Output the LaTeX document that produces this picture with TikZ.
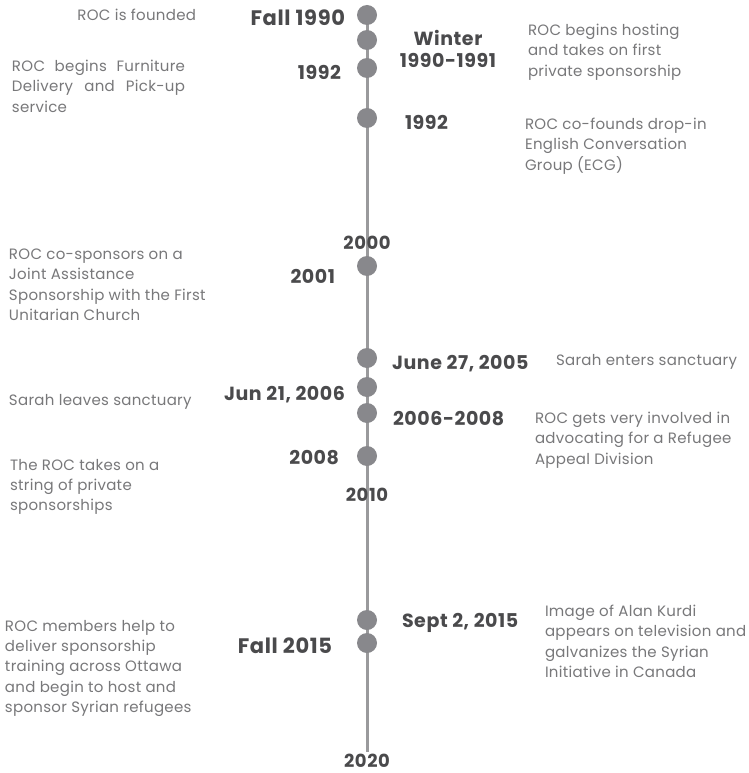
\documentclass[tikz,border=0pt]{standalone}
\usepackage{fontspec}
\setmainfont{Poppins}[LetterSpace=2]
\newfontfamily\datefont[Numbers=OldStyle, LetterSpace=3]{Poppins}
\definecolor{dotgray}{HTML}{88888C}
\definecolor{linegray}{HTML}{9A9A9C}
\definecolor{dategray}{HTML}{4A4A4C}
\definecolor{notegray}{HTML}{78787A}
\newcommand{\jline}[1]{\makebox[173pt][s]{#1}}

\begin{document}
\begin{tikzpicture}[x=1pt,y=-1pt,
			every node/.style = {inner sep=0pt, outer sep=0pt},
			event/.style = {circle, fill=dotgray, minimum size=20pt},
			date/.style = {font=\datefont\bfseries\fontsize{19}{22}\selectfont, text=dategray},
			decade/.style = {font=\datefont\bfseries\fontsize{18}{22}\selectfont, text=dategray},
			bigdate/.style = {font=\datefont\bfseries\fontsize{21}{22}\selectfont, text=dategray},
			note/.style = {font=\fontsize{15}{20.3}\selectfont, text=notegray, align=left}]

			\useasboundingbox (0,0) rectangle (748,773);
			\fill[white] (0,0) rectangle (748,773);

			% the time axis
			\coordinate (top) at (367,8);
			\coordinate (bottom) at (367,752);
			\draw[linegray, line width=3pt] (top) -- (bottom);

			% events on the axis
			\node[event] (e1) at (367,15) {};
			\node[event] (e2) at (367,40) {};
			\node[event] (e3) at (367,68) {};
			\node[event] (e4) at (367,118) {};
			\node[event] (e5) at (367,266) {};
			\node[event] (e6) at (367,358) {};
			\node[event] (e7) at (367,387) {};
			\node[event] (e8) at (367,413) {};
			\node[event] (e9) at (367,456) {};
			\node[event] (e10) at (367,620) {};
			\node[event] (e11) at (367,643) {};

			% decades
			\node[decade] (d2000) at (367,243) {2000};
			\node[decade] (d2010) at (367,495) {2010};
			\node[decade] (d2020) at (367,761) {2020};

			% dates
			\node[bigdate, anchor=east] (t1) at (345,18) {Fall 1990};
			\node[date, align=center] (t2) at (448,49) {Winter\\1990-1991};
			\node[date, anchor=east] (t3) at (341,72) {1992};
			\node[date, anchor=west] (t4) at (405,122) {1992};
			\node[date, anchor=east] (t5) at (335,276) {2001};
			\node[date, anchor=west] (t6) at (392,364) {June 27, 2005};
			\node[date, anchor=east] (t7) at (345,395) {Jun 21, 2006};
			\node[date, anchor=west] (t8) at (393,419) {2006-2008};
			\node[date, anchor=east] (t9) at (339,458) {2008};
			\node[date, anchor=west] (t10) at (402,623) {Sept 2, 2015};
			\node[bigdate, anchor=east] (t11) at (332,646) {Fall 2015};

			% what happened
			\node[note, anchor=east] (n1) at (196,15) {ROC is founded};
			\node[note, anchor=north west] (n2) at (528,24) {ROC begins hosting\\and takes on first\\private sponsorship};
			\node[note, anchor=north west] (n3) at (12,60) {\jline{ROC begins Furniture}\\\jline{Delivery and Pick-up}\\service};
			\node[note, anchor=north west] (n4) at (525,118) {ROC co-founds drop-in\\English Conversation\\Group (ECG)};
			\node[note, anchor=north west] (n5) at (9,249) {ROC co-sponsors on a\\Joint Assistance\\Sponsorship with the First\\Unitarian Church};
			\node[note, anchor=west] (n6) at (556,362) {Sarah enters sanctuary};
			\node[note, anchor=west] (n7) at (9,402) {Sarah leaves sanctuary};
			\node[note, anchor=north west] (n8) at (535,412) {ROC gets very involved in\\advocating for a Refugee\\Appeal Division};
			\node[note, anchor=north west] (n9) at (10,459) {The ROC takes on a\\string of private\\sponsorships};
			\node[note, anchor=north west] (n10) at (545,605) {Image of Alan Kurdi\\appears on television and\\galvanizes the Syrian\\Initiative in Canada};
			\node[note, anchor=north west] (n11) at (5,620) {ROC members help to\\deliver sponsorship\\training across Ottawa\\and begin to host and\\sponsor Syrian refugees};
			\end{tikzpicture}
\end{document}
